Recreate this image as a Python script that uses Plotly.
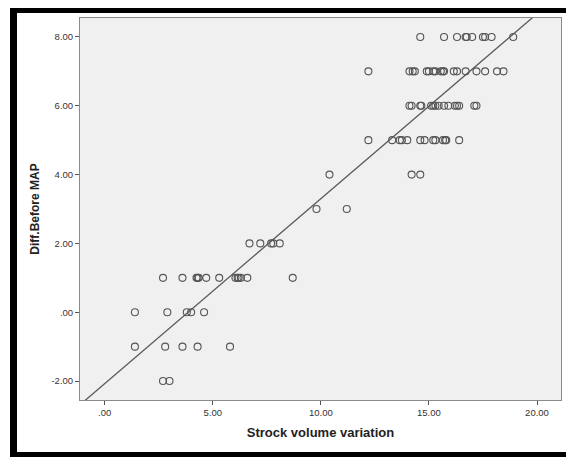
import numpy as np
import plotly.graph_objects as go

# Data (x = stroke volume variation, y = diff before MAP)
row_8 = [14.6, 15.7, 16.3, 16.7, 16.75, 17.0, 17.5, 17.6, 17.9, 18.9]
row_7 = [12.2, 14.1, 14.25, 14.35, 14.9, 15.0, 15.2, 15.3, 15.55, 15.65, 15.7,
         16.15, 16.3, 16.7, 17.2, 17.6, 18.15, 18.45]
row_6 = [14.1, 14.2, 14.6, 14.65, 15.1, 15.2, 15.3, 15.45, 15.7, 15.9, 16.2,
         16.3, 16.4, 17.1, 17.2]
row_5 = [12.2, 13.3, 13.65, 13.75, 14.0, 14.6, 14.8, 15.2, 15.3, 15.65, 15.75,
         15.8, 16.4]
row_4 = [10.4, 14.2, 14.6]
row_3 = [9.8, 11.2]
row_2 = [6.7, 7.2, 7.7, 7.8, 8.1]
row_1 = [2.7, 3.6, 4.25, 4.3, 4.35, 4.7, 5.3, 6.05, 6.15, 6.2, 6.3, 6.6, 8.7]
row_0 = [1.4, 2.9, 3.8, 4.0, 4.6]
row_m1 = [1.4, 2.8, 3.6, 4.3, 5.8]
row_m2 = [2.7, 3.0]

rows = {8: row_8, 7: row_7, 6: row_6, 5: row_5, 4: row_4, 3: row_3,
        2: row_2, 1: row_1, 0: row_0, -1: row_m1, -2: row_m2}

x_vals = []
y_vals = []
for yv, xs in rows.items():
    for xv in xs:
        x_vals.append(xv)
        y_vals.append(yv)
x_vals = np.array(x_vals)
y_vals = np.array(y_vals, dtype=float)

x_tick_vals = [0, 5, 10, 15, 20]
x_tick_text = [".00", "5.00", "10.00", "15.00", "20.00"]
y_tick_vals = [-2, 0, 2, 4, 6, 8]
y_tick_text = ["-2.00", ".00", "2.00", "4.00", "6.00", "8.00"]

x_range = [-1.14, 21.11]
y_range = [-2.55, 8.55]

slope, intercept = np.polyfit(x_vals, y_vals, 1)
fit_x = np.array(x_range)
fit_y = intercept + slope * fit_x

fig = go.Figure()
fig.add_trace(go.Scatter(
    x=fit_x, y=fit_y, mode="lines",
    line=dict(color="#5a5a5a", width=1.3),
    hoverinfo="skip", showlegend=False,
))
fig.add_trace(go.Scatter(
    x=x_vals, y=y_vals, mode="markers",
    marker=dict(symbol="circle-open", size=7, color="#555555",
                line=dict(width=1.1, color="#555555")),
    showlegend=False,
))

axis_common = dict(
    showgrid=False, zeroline=False, showline=True, mirror=True,
    linecolor="#8a8a8a", linewidth=1, ticks="outside", ticklen=4,
    tickcolor="#555555", automargin=False,
    tickfont=dict(family="Liberation Sans, Arial", size=9.5, color="#333333"),
)

fig.update_xaxes(range=x_range, tickvals=x_tick_vals, ticktext=x_tick_text,
                 title=dict(text="<b>Strock volume variation</b>",
                            font=dict(family="Liberation Sans, Arial", size=13, color="#222222"),
                            standoff=10),
                 **axis_common)
fig.update_yaxes(range=y_range, tickvals=y_tick_vals, ticktext=y_tick_text,
                 title=dict(text="<b>Diff.Before MAP</b>",
                            font=dict(family="Liberation Sans, Arial", size=12, color="#222222"),
                            standoff=9),
                 **axis_common)

# The page body adds an 8px offset; size the figure to compensate.
OFF = 8
W, H = 574 - OFF, 457 - OFF
ml, mr, mt, mb = 80 - OFF, 13, 18 - OFF, 57
pw, ph = W - ml - mr, H - mt - mb


def px_x(p):
    return (p - OFF - ml) / pw


def px_y(p):
    return (H - mb - (p - OFF)) / ph


frame = [(10, 6, 17, 457), (10, 6, 574, 13), (566, 6, 574, 457), (10, 452, 574, 457)]
for x0, y0, x1, y1 in frame:
    fig.add_shape(type="rect", xref="paper", yref="paper",
                  x0=px_x(x0), x1=px_x(x1), y0=px_y(y1), y1=px_y(y0),
                  fillcolor="black", line=dict(width=0), layer="above")

fig.update_layout(
    width=W, height=H,
    margin=dict(l=ml, r=mr, t=mt, b=mb),
    plot_bgcolor="#f0f0f0", paper_bgcolor="white",
)

fig.write_html("out.html")
